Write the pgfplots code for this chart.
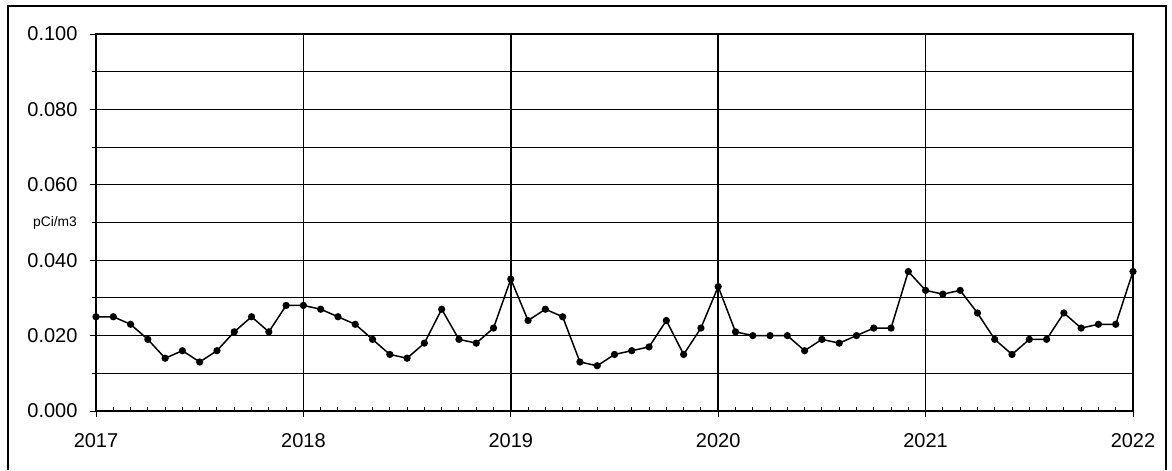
\documentclass[border=0pt]{standalone}
\usepackage{pgfplots}
\pgfplotsset{compat=1.18}
\usepackage{fontspec}
\setmainfont{Liberation Sans}
\pgfplotstableread{
m v
0 0.025
1 0.025
2 0.023
3 0.019
4 0.014
5 0.016
6 0.013
7 0.016
8 0.021
9 0.025
10 0.021
11 0.028
12 0.028
13 0.027
14 0.025
15 0.023
16 0.019
17 0.015
18 0.014
19 0.018
20 0.027
21 0.019
22 0.018
23 0.022
24 0.035
25 0.024
26 0.027
27 0.025
28 0.013
29 0.012
30 0.015
31 0.016
32 0.017
33 0.024
34 0.015
35 0.022
36 0.033
37 0.021
38 0.020
39 0.020
40 0.020
41 0.016
42 0.019
43 0.018
44 0.020
45 0.022
46 0.022
47 0.037
48 0.032
49 0.031
50 0.032
51 0.026
52 0.019
53 0.015
54 0.019
55 0.019
56 0.026
57 0.022
58 0.023
59 0.023
60 0.037
}\datatable
\begin{document}
\begin{tikzpicture}
\useasboundingbox (0,0) rectangle (703.2pt,282pt);
\draw[line width=0.7pt] (4.8pt,0) -- (4.8pt,278.4pt) -- (699.6pt,278.4pt) -- (699.6pt,0);
\begin{axis}[
  at={(57.6pt,35.4pt)}, anchor=south west,
  scale only axis, width=622.2pt, height=226.2pt,
  xmin=0, xmax=60, ymin=0, ymax=0.1,
  axis line style={black, line width=0.8pt},
  xtick={0,12,...,60},
  xticklabels={2017,2018,2019,2020,2021,2022},
  minor x tick num=11,
  ytick={0,0.02,...,0.1},
  minor ytick={0.01,0.03,...,0.09},
  xtick pos=bottom, ytick pos=left,
  xmajorgrids, ymajorgrids, yminorgrids,
  x grid style={black, line width=0.9pt},
  y grid style={black, line width=0.7pt},
  tick style={black, line width=0.6pt},
  xtick align=inside,
  ytick align=outside,
  major tick length=3.6pt,
  minor tick length=2.6pt,
  yticklabel style={/pgf/number format/.cd, fixed, fixed zerofill, precision=3, /tikz/.cd, font=\fontsize{12}{14}\selectfont, xshift=-4pt},
  xticklabel style={font=\fontsize{12}{14}\selectfont, yshift=-10pt},
  /pgf/number format/assume math mode=true,
  extra x ticks={0,12,...,60},
  extra x tick labels={},
  extra x tick style={xmajorgrids=false, tick align=outside},
  clip=false,
]
\addplot[black, line width=0.9pt, mark=*, mark size=1.7pt] table[x=m, y=v] {\datatable};
\end{axis}
\node[font=\fontsize{8.3}{10}\selectfont] at (33pt,148.2pt) {pCi/m3};
\end{tikzpicture}
\end{document}
